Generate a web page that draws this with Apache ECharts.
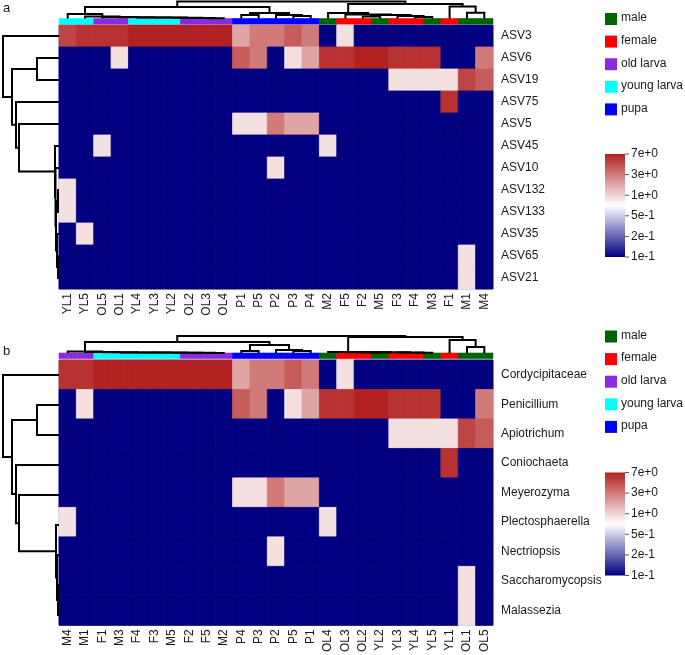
<!DOCTYPE html>
<html><head><meta charset="utf-8">
<script src="https://cdn.jsdelivr.net/npm/echarts@6/dist/echarts.min.js"></script>
<style>html,body{margin:0;padding:0;background:#fff}#c{width:685px;height:655px}</style>
</head><body><div id="c"></div>
<script>
// ---------- data ----------
const colsA = ['YL1','YL5','OL5','OL1','YL4','YL3','YL2','OL2','OL3','OL4','P1','P5','P2','P3','P4','M2','F5','F2','M5','F3','F4','M3','F1','M1','M4'];
const groupsA = ['young larva','young larva','old larva','old larva','young larva','young larva','young larva','old larva','old larva','old larva','pupa','pupa','pupa','pupa','pupa','male','female','female','male','female','female','male','female','male','male'];
const rowsA = ['ASV3','ASV6','ASV19','ASV75','ASV5','ASV45','ASV10','ASV132','ASV133','ASV35','ASV65','ASV21'];
const valuesA = [
  [5,6,6,6,7,7,7,7,7,7, 1.8,3,3,4,3, 0.1,0.9,0.1,0.1,0.1,0.1,0.1,0.1,0.1,0.1],
  [0.1,0.1,0.1,0.9,0.1,0.1,0.1,0.1,0.1,0.1, 4,3,0.1,0.9,1.8, 6,6,7,7,6,6,6,0.1,0.1,3],
  [0.1,0.1,0.1,0.1,0.1,0.1,0.1,0.1,0.1,0.1, 0.1,0.1,0.1,0.1,0.1, 0.1,0.1,0.1,0.1,0.9,0.9,0.9,0.9,5,4],
  [0.1,0.1,0.1,0.1,0.1,0.1,0.1,0.1,0.1,0.1, 0.1,0.1,0.1,0.1,0.1, 0.1,0.1,0.1,0.1,0.1,0.1,0.1,6,0.1,0.1],
  [0.1,0.1,0.1,0.1,0.1,0.1,0.1,0.1,0.1,0.1, 0.9,0.9,3,1.8,1.8, 0.1,0.1,0.1,0.1,0.1,0.1,0.1,0.1,0.1,0.1],
  [0.1,0.1,0.9,0.1,0.1,0.1,0.1,0.1,0.1,0.1, 0.1,0.1,0.1,0.1,0.1, 0.9,0.1,0.1,0.1,0.1,0.1,0.1,0.1,0.1,0.1],
  [0.1,0.1,0.1,0.1,0.1,0.1,0.1,0.1,0.1,0.1, 0.1,0.1,0.9,0.1,0.1, 0.1,0.1,0.1,0.1,0.1,0.1,0.1,0.1,0.1,0.1],
  [0.9,0.1,0.1,0.1,0.1,0.1,0.1,0.1,0.1,0.1, 0.1,0.1,0.1,0.1,0.1, 0.1,0.1,0.1,0.1,0.1,0.1,0.1,0.1,0.1,0.1],
  [0.9,0.1,0.1,0.1,0.1,0.1,0.1,0.1,0.1,0.1, 0.1,0.1,0.1,0.1,0.1, 0.1,0.1,0.1,0.1,0.1,0.1,0.1,0.1,0.1,0.1],
  [0.1,0.9,0.1,0.1,0.1,0.1,0.1,0.1,0.1,0.1, 0.1,0.1,0.1,0.1,0.1, 0.1,0.1,0.1,0.1,0.1,0.1,0.1,0.1,0.1,0.1],
  [0.1,0.1,0.1,0.1,0.1,0.1,0.1,0.1,0.1,0.1, 0.1,0.1,0.1,0.1,0.1, 0.1,0.1,0.1,0.1,0.1,0.1,0.1,0.1,0.9,0.1],
  [0.1,0.1,0.1,0.1,0.1,0.1,0.1,0.1,0.1,0.1, 0.1,0.1,0.1,0.1,0.1, 0.1,0.1,0.1,0.1,0.1,0.1,0.1,0.1,0.9,0.1]
];
const colsB = ['M4','M1','F1','M3','F4','F3','M5','F2','F5','M2','P4','P3','P2','P5','P1','OL4','OL3','OL2','YL2','YL3','YL4','YL5','YL1','OL1','OL5'];
const groupsB = ['old larva','old larva','young larva','young larva','young larva','young larva','young larva','old larva','old larva','old larva','pupa','pupa','pupa','pupa','pupa','male','female','female','male','female','female','male','female','male','male'];
const rowsB = ['Cordycipitaceae','Penicillium','Apiotrichum','Coniochaeta','Meyerozyma','Plectosphaerella','Nectriopsis','Saccharomycopsis','Malassezia'];
const valuesB = [
  [6,6,7,7,7,7,7,7,7,7, 1.8,3,3,4,3, 0.1,0.9,0.1,0.1,0.1,0.1,0.1,0.1,0.1,0.1],
  [0.1,0.9,0.1,0.1,0.1,0.1,0.1,0.1,0.1,0.1, 4,3,0.1,0.9,1.8, 6,6,7,7,6,6,6,0.1,0.1,3],
  [0.1,0.1,0.1,0.1,0.1,0.1,0.1,0.1,0.1,0.1, 0.1,0.1,0.1,0.1,0.1, 0.1,0.1,0.1,0.1,0.9,0.9,0.9,0.9,5,4],
  [0.1,0.1,0.1,0.1,0.1,0.1,0.1,0.1,0.1,0.1, 0.1,0.1,0.1,0.1,0.1, 0.1,0.1,0.1,0.1,0.1,0.1,0.1,6,0.1,0.1],
  [0.1,0.1,0.1,0.1,0.1,0.1,0.1,0.1,0.1,0.1, 0.9,0.9,3,1.8,1.8, 0.1,0.1,0.1,0.1,0.1,0.1,0.1,0.1,0.1,0.1],
  [0.9,0.1,0.1,0.1,0.1,0.1,0.1,0.1,0.1,0.1, 0.1,0.1,0.1,0.1,0.1, 0.9,0.1,0.1,0.1,0.1,0.1,0.1,0.1,0.1,0.1],
  [0.1,0.1,0.1,0.1,0.1,0.1,0.1,0.1,0.1,0.1, 0.1,0.1,0.9,0.1,0.1, 0.1,0.1,0.1,0.1,0.1,0.1,0.1,0.1,0.1,0.1],
  [0.1,0.1,0.1,0.1,0.1,0.1,0.1,0.1,0.1,0.1, 0.1,0.1,0.1,0.1,0.1, 0.1,0.1,0.1,0.1,0.1,0.1,0.1,0.1,0.9,0.1],
  [0.1,0.1,0.1,0.1,0.1,0.1,0.1,0.1,0.1,0.1, 0.1,0.1,0.1,0.1,0.1, 0.1,0.1,0.1,0.1,0.1,0.1,0.1,0.1,0.9,0.1]
];
// dendrogram merges: [childA, childB, height]; leaves are 0..n-1, merge k is node n+k
const colTreeA = [
  [8,9,0.3],[7,25,0.5],[6,26,0.7],[5,27,0.9],[4,28,1.1],[3,29,1.3],[2,30,1.5],[1,31,2.0],[0,32,4.5],
  [10,11,3.5],[13,14,2.5],[12,35,3.5],[34,36,5.5],[33,37,11.5],
  [20,21,1.5],[19,39,2.5],[17,18,2],[41,40,3.5],[16,42,4],[15,43,5.5],[23,24,5.8],[22,45,12],[44,46,14.5],[38,47,17]
];
const colTreeB = [
  [8,9,0.1],[7,25,0.2],[6,26,0.3],[5,27,0.4],[4,28,0.5],[3,29,0.6],[2,30,0.7],[1,31,0.9],[0,32,1.5],
  [10,11,2],[13,14,2],[12,35,3],[34,36,8],[33,37,11],
  [20,21,0.3],[19,39,0.5],[17,18,0.4],[41,40,0.7],[16,42,0.8],[15,43,1.0],[23,24,6],[22,45,13],[44,46,16],[38,47,17]
];
const rowTreeA = [[7,8,1],[10,11,1],[9,13,2],[12,14,3],[6,15,3.5],[5,16,4],[4,17,40],[3,18,43],[1,2,22],[20,19,47],[0,21,56]];
const rowTreeB = [[7,8,1],[6,9,2],[5,10,3],[4,11,40],[3,12,43],[1,2,22],[14,13,47],[0,15,56]];
const groupNames = ['male','female','old larva','young larva','pupa'];
const groupColors = ['#006400','#FF0000','#8A2BE2','#00FFFF','#0000FF'];
const scaleTicks = [7,3,1,0.5,0.2,0.1];
const scaleLabels = ['7e+0','3e+0','1e+0','5e-1','2e-1','1e-1'];

// ---------- helpers ----------
const FONT = 'Liberation Sans, Arial, sans-serif';
const ascTicks = scaleTicks.slice().reverse();
function scalePos(v){ // position on colour bar (0 bottom .. 1 top), ticks evenly spaced
  const n = ascTicks.length - 1;
  if (v <= ascTicks[0]) return 0;
  for (let i=0;i<n;i++){
    if (v <= ascTicks[i+1]) {
      const f = Math.log(v/ascTicks[i]) / Math.log(ascTicks[i+1]/ascTicks[i]);
      return (i+f)/n;
    }
  }
  return 1;
}
function heatData(vals){
  const d=[]; vals.forEach((row,r)=>row.forEach((v,c)=>d.push([c,r,scalePos(v),v]))); return d;
}
function heatSeries(xi, vals){
  return {
    type:'custom', xAxisIndex:xi, yAxisIndex:xi, silent:true,
    encode:{x:0, y:1},
    data: heatData(vals),
    renderItem:function(params, api){
      const p = api.coord([api.value(0), api.value(1)]);
      const s = api.size([1,1]);
      const c = api.visual('color');
      return {type:'rect', shape:{x:p[0]-s[0]/2, y:p[1]-s[1]/2, width:s[0], height:s[1]},
        style:{fill:c, stroke:c, lineWidth:0.8}};
    }
  };
}
function dendroSegs(tree, n){
  const pos=[], ht=[];
  for(let i=0;i<n;i++){pos[i]=i;ht[i]=0;}
  const segs=[];
  tree.forEach((m,k)=>{
    const [a,b,h]=m; pos[n+k]=(pos[a]+pos[b])/2; ht[n+k]=h;
    segs.push([pos[a],ht[a],pos[b],ht[b],h]);
  });
  return segs;
}
function dendroSeries(xi, segs, horizontal){
  return {
    type:'custom', xAxisIndex:xi, yAxisIndex:xi, silent:true, clip:false,
    data: segs,
    renderItem:function(params, api){
      const xa=api.value(0), ha=api.value(1), xb=api.value(2), hb=api.value(3), h=api.value(4);
      const P = horizontal ? (p,hh)=>api.coord([hh,p]) : (p,hh)=>api.coord([p,hh]);
      return {type:'polyline', shape:{points:[P(xa,ha),P(xa,h),P(xb,h),P(xb,hb)]},
        style:{stroke:'#000', lineWidth:2, fill:null}};
    }
  };
}
function barSeries(xi, groups){
  return {
    type:'custom', xAxisIndex:xi, yAxisIndex:xi, silent:true,
    data: groups.map((g,i)=>[i,0,groupNames.indexOf(g)]),
    renderItem:function(params, api){
      const p = api.coord([api.value(0), api.value(1)]);
      const s = api.size([1,1]);
      const c = groupColors[api.value(2)];
      return {type:'rect', shape:{x:p[0]-s[0]/2, y:p[1]-s[1]/2, width:s[0], height:s[1]},
        style:{fill:c, stroke:c, lineWidth:0.6}};
    }
  };
}

// ---------- layout ----------
const HX = 59, HW = 434;
const heatGrid = {show:true, borderColor:'#9a9ad4', borderWidth:1, backgroundColor:'transparent'};
const grids = [
  Object.assign({left:HX, top:25, width:HW, height:264}, heatGrid),   // 0 heat A
  {left:HX, top:18.5, width:HW, height:5.5},      // 1 bar A
  {left:HX, top:1, width:HW, height:17.5},        // 2 col dendro A
  {left:0, top:25, width:HX, height:264},         // 3 row dendro A
  Object.assign({left:HX, top:360, width:HW, height:270}, heatGrid),  // 4 heat B
  {left:HX, top:353, width:HW, height:5.5},       // 5 bar B
  {left:HX, top:334, width:HW, height:19},        // 6 col dendro B
  {left:0, top:360, width:HX, height:270}         // 7 row dendro B
];
const hidden = {show:false};
const xAxes=[], yAxes=[];
function heatAxes(cols, rows, gi){
  xAxes.push({type:'category', gridIndex:gi, data:cols, position:'bottom',
    axisLine:hidden, axisTick:hidden, splitLine:hidden,
    axisLabel:{rotate:90, interval:0, fontSize:12, fontFamily:FONT, color:'#1a1a1a', margin:4}});
  yAxes.push({type:'category', gridIndex:gi, data:rows, inverse:true, position:'right',
    axisLine:hidden, axisTick:hidden, splitLine:hidden,
    axisLabel:{interval:0, fontSize:12, fontFamily:FONT, color:'#1a1a1a', margin:8}});
}
function barAxes(cols, gi){
  xAxes.push({type:'category', gridIndex:gi, data:cols, show:false});
  yAxes.push({type:'category', gridIndex:gi, data:['g'], show:false});
}
function colDendAxes(n, gi, hmax){
  xAxes.push({type:'value', gridIndex:gi, min:-0.5, max:n-0.5, show:false});
  yAxes.push({type:'value', gridIndex:gi, min:0, max:hmax, show:false});
}
function rowDendAxes(n, gi, hmax){
  xAxes.push({type:'value', gridIndex:gi, min:0, max:hmax, inverse:true, show:false});
  yAxes.push({type:'value', gridIndex:gi, min:-0.5, max:n-0.5, inverse:true, show:false});
}
heatAxes(colsA, rowsA, 0); barAxes(colsA, 1); colDendAxes(colsA.length, 2, 17.5); rowDendAxes(rowsA.length, 3, 59);
heatAxes(colsB, rowsB, 4); barAxes(colsB, 5); colDendAxes(colsB.length, 6, 19); rowDendAxes(rowsB.length, 7, 59);

const series = [
  heatSeries(0, valuesA),
  barSeries(1, groupsA),
  dendroSeries(2, dendroSegs(colTreeA, colsA.length), false),
  dendroSeries(3, dendroSegs(rowTreeA, rowsA.length), true),
  heatSeries(4, valuesB),
  barSeries(5, groupsB),
  dendroSeries(6, dendroSegs(colTreeB, colsB.length), false),
  dendroSeries(7, dendroSegs(rowTreeB, rowsB.length), true)
];

// ---------- legends (graphic) ----------
const graphic = [];
function addLegend(top, barTop){
  groupNames.forEach((g,i)=>{
    const y = top + i*22.6;
    graphic.push({type:'rect', left:605, top:y, shape:{width:12, height:12}, style:{fill:groupColors[i]}});
    graphic.push({type:'text', left:621, top:y-1, style:{text:g, font:'12px '+FONT, fill:'#1a1a1a'}});
  });
  const bh = 103, bw = 20;
  graphic.push({type:'rect', left:605, top:barTop, shape:{width:bw, height:bh},
    style:{fill:new echarts.graphic.LinearGradient(0,1,0,0,[
      {offset:0,color:'#000080'},{offset:0.5,color:'#ffffff'},{offset:1,color:'#B22222'}])}});
  scaleTicks.forEach((t,i)=>{
    const y = barTop + (1-scalePos(t))*bh;
    graphic.push({type:'line', shape:{x1:625, y1:y, x2:629, y2:y}, style:{stroke:'#555', lineWidth:1}});
    graphic.push({type:'text', x:631, y:y, style:{text:scaleLabels[i], font:'12px '+FONT, fill:'#1a1a1a', textVerticalAlign:'middle'}});
  });
}
addLegend(13, 154);
addLegend(330.5, 472.5);
graphic.push({type:'text', x:3, y:8, style:{text:'a', font:'13px '+FONT, fill:'#1a1a1a', textVerticalAlign:'middle'}});
graphic.push({type:'text', x:3, y:351, style:{text:'b', font:'13px '+FONT, fill:'#1a1a1a', textVerticalAlign:'middle'}});

const chart = echarts.init(document.getElementById('c'), null, {renderer:'canvas'});
chart.setOption({
  animation:false,
  backgroundColor:'#fff',
  grid:grids, xAxis:xAxes, yAxis:yAxes,
  visualMap:{type:'continuous', show:false, min:0, max:1, dimension:2, seriesIndex:[0,4],
    inRange:{color:['#000080','#ffffff','#B22222']}},
  series:series,
  graphic:graphic
});
</script></body></html>
